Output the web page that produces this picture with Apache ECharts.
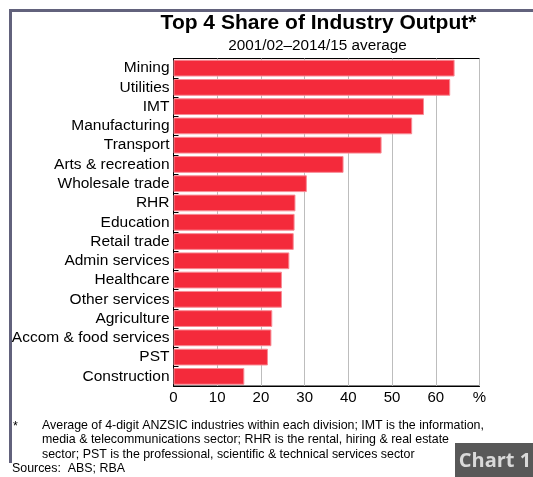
<!DOCTYPE html>
<html>
<head>
<meta charset="utf-8">
<script src="https://cdn.jsdelivr.net/npm/echarts@6/dist/echarts.min.js"></script>
<style>
  html, body { margin: 0; padding: 0; background: #fff; }
  #chart { width: 533px; height: 477px; }
</style>
</head>
<body>
<div id="chart"></div>
<script>
// Industry divisions, top to bottom
const industries = [
  'Mining', 'Utilities', 'IMT', 'Manufacturing', 'Transport',
  'Arts & recreation', 'Wholesale trade', 'RHR', 'Education', 'Retail trade',
  'Admin services', 'Healthcare', 'Other services', 'Agriculture',
  'Accom & food services', 'PST', 'Construction'
];
// Top 4 share of output, per cent
const top4Share = [
  64.3, 63.3, 57.3, 54.6, 47.6,
  38.9, 30.5, 27.9, 27.7, 27.5,
  26.5, 24.8, 24.8, 22.6,
  22.4, 21.6, 16.2
];
// Value axis ticks; the last one carries the unit
const xTicks = [0, 10, 20, 30, 40, 50, 60, 70];
const xUnit = '%';

const titleText = 'Top 4 Share of Industry Output*';
const subtitleText = '2001/02\u20132014/15 average';
const footnoteLines = [
  'Average of 4-digit ANZSIC industries within each division; IMT is the information,',
  'media & telecommunications sector; RHR is the rental, hiring & real estate',
  'sector; PST is the professional, scientific & technical services sector'
];
const sourcesText = 'Sources:  ABS; RBA';
const chartTag = 'Chart 1';

const FONT = '"Liberation Sans", Arial, sans-serif';
const frameColor = '#62627c';

const chart = echarts.init(document.getElementById('chart'), null, { renderer: 'canvas' });

const footGraphics = footnoteLines.map((line, i) => ({
  type: 'text', silent: true,
  style: { x: 42, y: 425.5 + i * 14.5, text: line, font: '12.4px ' + FONT, fill: '#000', verticalAlign: 'middle' }
}));

chart.setOption({
  animation: false,
  backgroundColor: '#fff',
  grid: {
    left: 173.5, right: 53.5, top: 58.5, bottom: 91,
    show: true, borderColor: '#000', borderWidth: 1, backgroundColor: 'transparent'
  },
  xAxis: {
    type: 'value', min: xTicks[0], max: xTicks[xTicks.length - 1], interval: 10,
    axisLine: { show: true, lineStyle: { color: '#000', width: 1 } },
    axisTick: { show: false },
    splitLine: { show: true, lineStyle: { color: '#bdbdbd', width: 1 } },
    axisLabel: {
      color: '#000', fontFamily: FONT, fontSize: 15, margin: 4,
      formatter: v => (v === xTicks[xTicks.length - 1] ? xUnit : String(v))
    }
  },
  yAxis: {
    type: 'category', data: industries, inverse: true,
    axisLine: { show: true, lineStyle: { color: '#000', width: 1 } },
    axisTick: { show: true, inside: true, length: 5, interval: 0, lineStyle: { color: '#000' } },
    axisLabel: { color: '#000', fontFamily: FONT, fontSize: 15.5, margin: 4, interval: 0, hideOverlap: false }
  },
  series: [{
    type: 'bar', data: top4Share,
    barCategoryGap: '13%',
    itemStyle: { color: '#f42a3b', borderColor: '#f88a94', borderWidth: 1 },
    z: 3
  }],
  graphic: [
    // frame: left and top rules
    { type: 'rect', shape: { x: 9, y: 9, width: 3, height: 454 }, style: { fill: frameColor }, silent: true },
    { type: 'rect', shape: { x: 9, y: 9, width: 524, height: 3 }, style: { fill: frameColor }, silent: true },
    // titles
    {
      type: 'text', silent: true,
      style: { x: 318.5, y: 23, text: titleText, font: 'bold 21px ' + FONT, fill: '#000', align: 'center', verticalAlign: 'middle' }
    },
    {
      type: 'text', silent: true,
      style: { x: 317.5, y: 45.5, text: subtitleText, font: '15.3px ' + FONT, fill: '#000', align: 'center', verticalAlign: 'middle' }
    },
    // footnote and sources
    { type: 'text', silent: true, style: { x: 13, y: 427, text: '*', font: '12.4px ' + FONT, fill: '#000', verticalAlign: 'middle' } },
    ...footGraphics,
    { type: 'text', silent: true, style: { x: 12, y: 468.5, text: sourcesText, font: '12.4px ' + FONT, fill: '#000', verticalAlign: 'middle' } },
    // chart tag box
    { type: 'rect', shape: { x: 455, y: 443, width: 78, height: 34 }, style: { fill: '#585858' }, silent: true },
    {
      type: 'text', silent: true,
      style: {
        x: 495, y: 461, text: chartTag, font: 'bold 20px "Open Sans", "DejaVu Sans Condensed", sans-serif',
        fill: '#d9d9d9', align: 'center', verticalAlign: 'middle'
      }
    }
  ]
});
</script>
</body>
</html>
